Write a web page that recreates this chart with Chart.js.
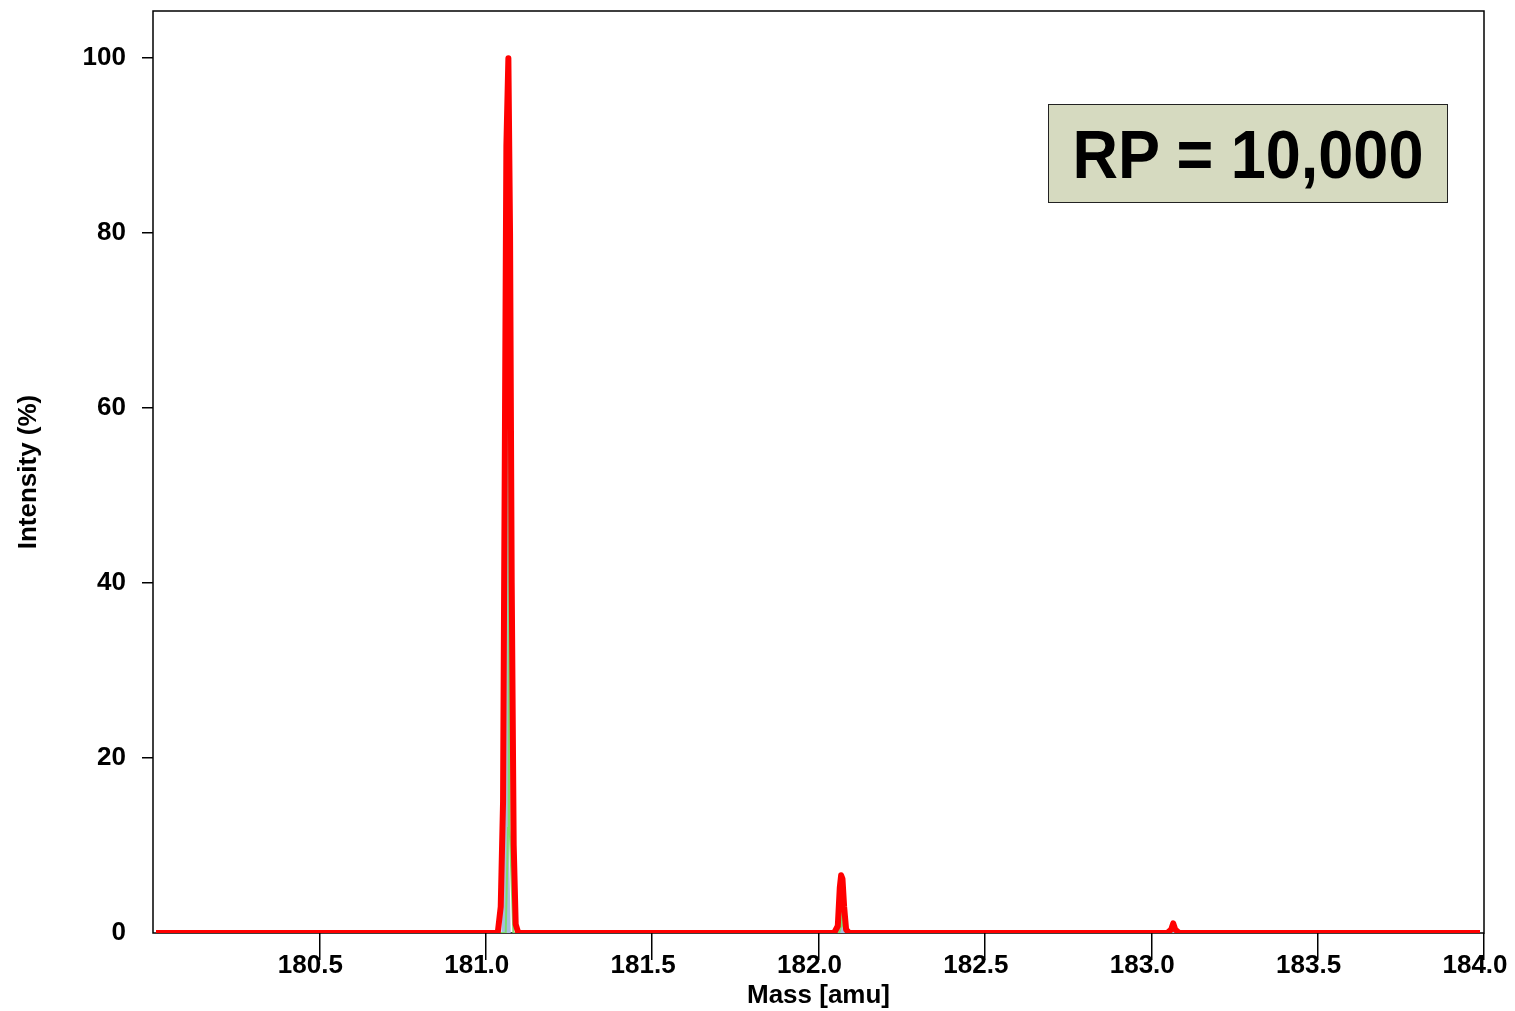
<!DOCTYPE html>
<html>
<head>
<meta charset="utf-8">
<script src="https://cdn.jsdelivr.net/npm/chart.js@4.4.0/dist/chart.umd.min.js"></script>
<style>
    body { margin: 0; background: #fff; }
    #wrap { position: relative; width: 1515px; height: 1011px; }
    #rpBox {
        position: absolute; left: 1048px; top: 104px; width: 398px; height: 97px;
        border: 1.5px solid #222; background: #d6dac0;
        display: flex; align-items: center; justify-content: center;
        font-family: "Liberation Sans", Arial, sans-serif; font-weight: bold; font-size: 63px; color: #000;
    }
    #rpBox span { display: inline-block; transform: scaleY(1.1); }
</style>
</head>
<body>
<div id="wrap">
    <canvas id="massChart" width="1515" height="1011"></canvas>
    <div id="rpBox"><span>RP = 10,000</span></div>
</div>
<script>
// axis ticks
const xTicks = [180.5, 181.0, 181.5, 182.0, 182.5, 183.0, 183.5, 184.0];
const yTicks = [0, 20, 40, 60, 80, 100];

// measured profile at RP = 10,000 (red)
const redMass = [180.009, 181.036, 181.045, 181.052, 181.058, 181.062, 181.068, 181.073, 181.078, 181.084, 181.090, 181.098,
    182.047, 182.058, 182.064, 182.068, 182.072, 182.077, 182.083, 182.092,
    183.048, 183.060, 183.066, 183.072, 183.084, 183.988];
const redIntensity = [0, 0, 3, 15, 60, 90, 100, 80, 40, 10, 1, 0,
    0, 0.8, 5.2, 6.6, 6.2, 3, 0.4, 0,
    0, 0.4, 1.1, 0.4, 0, 0];

// narrow reference profile (blue fill)
const blueMass = [180.009, 181.047, 181.058, 181.066, 181.069, 181.075,
    182.052, 182.064, 182.069, 182.073, 182.080,
    183.058, 183.066, 183.074, 183.988];
const blueIntensity = [0, 0, 12, 100, 12, 0,
    0, 0.8, 5.5, 0.8, 0,
    0, 1.0, 0, 0];

// narrow reference profile (green line)
const greenMass = [180.009, 181.060, 181.067, 181.069, 181.072, 181.083,
    182.062, 182.068, 182.071, 182.074, 182.085,
    183.060, 183.068, 183.078, 183.988];
const greenIntensity = [0, 0, 12, 100, 12, 0,
    0, 0.8, 5.5, 0.8, 0,
    0, 1.0, 0, 0];

function toPoints(xs, ys) {
    return xs.map((x, i) => ({ x: x, y: ys[i] }));
}

// frame around the plot area, drawn under the traces
const framePlugin = {
    id: 'frame',
    beforeDatasetsDraw(chart) {
        const a = chart.chartArea;
        const ctx = chart.ctx;
        ctx.save();
        ctx.strokeStyle = '#000';
        ctx.lineWidth = 1.5;
        ctx.strokeRect(a.left, a.top, a.right - a.left, a.bottom - a.top);
        ctx.restore();
    }
};

const labelFont = { family: '"Liberation Sans", Arial, sans-serif', size: 26, weight: 'bold' };

new Chart(document.getElementById('massChart').getContext('2d'), {
    type: 'line',
    data: {
        datasets: [
            {
                label: 'RP 10,000',
                data: toPoints(redMass, redIntensity),
                borderColor: '#ff0000',
                borderWidth: 6,
                borderJoinStyle: 'round',
                borderCapStyle: 'butt',
                pointRadius: 0,
                tension: 0,
                fill: false
            },
            {
                label: 'green',
                data: toPoints(greenMass, greenIntensity),
                borderColor: '#7ddc6c',
                borderWidth: 2,
                pointRadius: 0,
                tension: 0,
                fill: false
            },
            {
                label: 'blue',
                data: toPoints(blueMass, blueIntensity),
                borderColor: 'rgba(0,0,0,0)',
                borderWidth: 0,
                backgroundColor: '#a5bde0',
                pointRadius: 0,
                tension: 0,
                fill: 'origin'
            }
        ]
    },
    options: {
        responsive: false,
        animation: false,
        layout: { padding: { top: 11, right: 31, bottom: 0, left: 0 } },
        plugins: {
            legend: { display: false },
            tooltip: { enabled: false }
        },
        scales: {
            x: {
                type: 'linear',
                min: 180.0,
                max: 184.0,
                afterFit: (scale) => {
                    scale.height = 78;
                    scale.paddingLeft = 0;
                    scale.paddingRight = 0;
                },
                afterBuildTicks: (scale) => { scale.ticks = xTicks.map(v => ({ value: v })); },
                border: { display: false },
                grid: {
                    drawOnChartArea: false,
                    drawTicks: true,
                    tickLength: 27,
                    color: '#000',
                    lineWidth: 1.5
                },
                ticks: {
                    autoSkip: false,
                    maxRotation: 0,
                    padding: -10,
                    labelOffset: -9,
                    color: '#000',
                    font: labelFont,
                    callback: (v) => Number(v).toFixed(1)
                },
                title: {
                    display: true,
                    text: 'Mass [amu]',
                    color: '#000',
                    font: labelFont,
                    padding: { top: 0, bottom: 0 }
                }
            },
            y: {
                min: 0,
                max: 105.4,
                afterFit: (scale) => {
                    scale.width = 153;
                    scale.paddingTop = 0;
                    scale.paddingBottom = 0;
                },
                afterBuildTicks: (scale) => { scale.ticks = yTicks.map(v => ({ value: v })); },
                border: { display: false },
                grid: {
                    drawOnChartArea: false,
                    drawTicks: true,
                    tickLength: 11,
                    lineWidth: 1.5,
                    color: (c) => (c.tick && c.tick.value === 0 ? 'rgba(0,0,0,0)' : '#000')
                },
                ticks: {
                    padding: 16,
                    color: '#000',
                    font: labelFont
                },
                title: {
                    display: true,
                    text: 'Intensity (%)',
                    color: '#000',
                    font: labelFont,
                    padding: { top: 13, bottom: 0 }
                }
            }
        }
    },
    plugins: [framePlugin]
});
</script>
</body>
</html>
